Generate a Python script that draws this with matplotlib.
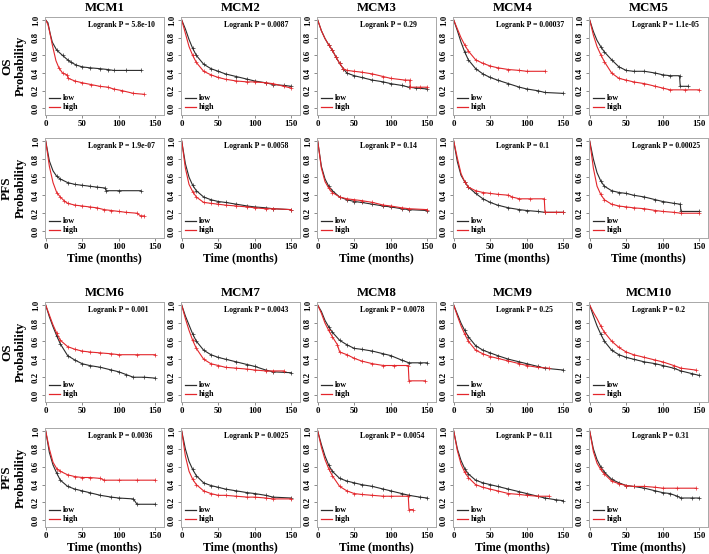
import matplotlib
matplotlib.use("Agg")
import matplotlib.pyplot as plt
import numpy as np

plt.rcParams['font.family'] = ['Liberation Serif', 'DejaVu Serif']
plt.rcParams['font.weight'] = 'bold'

# ---------------- data ----------------
GENES = ["MCM1", "MCM2", "MCM3", "MCM4", "MCM5", "MCM6", "MCM7", "MCM8", "MCM9", "MCM10"]
P_OS = ["5.8e-10", "0.0087", "0.29", "0.00037", "1.1e-05", "0.001", "0.0043", "0.0078", "0.25", "0.2"]
P_PFS = ["1.9e-07", "0.0058", "0.14", "0.1", "0.00025", "0.0036", "0.0025", "0.0054", "0.11", "0.31"]
X_TICKS = [0, 50, 100, 150]
Y_TICKS = [0.0, 0.2, 0.4, 0.6, 0.8, 1.0]
GROUPS = ["low", "high"]

# (time in months, survival probability)
MCM1_OS_LOW = [(0, 1), (3, 0.97), (6, 0.85), (9, 0.75), (15, 0.66), (23, 0.60), (30, 0.55), (35, 0.52), (42, 0.49), (50, 0.47), (60, 0.46), (74, 0.45), (85, 0.44), (93, 0.43), (110, 0.43), (130, 0.43)]
MCM1_OS_HIGH = [(0, 1), (3, 0.95), (5, 0.88), (9, 0.72), (14, 0.54), (18, 0.46), (23, 0.40), (29, 0.38), (31, 0.34), (40, 0.31), (50, 0.29), (62, 0.27), (74, 0.25), (85, 0.24), (93, 0.22), (105, 0.20), (120, 0.17), (134, 0.16)]
MCM1_PFS_LOW = [(0, 1), (5, 0.78), (10, 0.67), (15, 0.61), (20, 0.58), (30, 0.54), (40, 0.52), (50, 0.51), (60, 0.50), (70, 0.49), (81, 0.48), (83, 0.45), (100, 0.45), (130, 0.45)]
MCM1_PFS_HIGH = [(0, 1), (5, 0.72), (10, 0.54), (15, 0.43), (20, 0.38), (25, 0.34), (30, 0.31), (40, 0.29), (50, 0.28), (60, 0.27), (70, 0.26), (80, 0.24), (90, 0.23), (100, 0.22), (110, 0.21), (125, 0.20), (130, 0.17), (135, 0.17)]

MCM2_OS_LOW = [(0, 1), (5, 0.9), (10, 0.78), (15, 0.68), (20, 0.6), (30, 0.5), (40, 0.45), (50, 0.42), (60, 0.39), (75, 0.36), (90, 0.33), (100, 0.31), (115, 0.29), (125, 0.27), (140, 0.26), (150, 0.25)]
MCM2_OS_HIGH = [(0, 1), (5, 0.85), (10, 0.7), (15, 0.6), (20, 0.52), (30, 0.42), (40, 0.38), (50, 0.35), (60, 0.33), (75, 0.31), (90, 0.30), (100, 0.30), (115, 0.29), (125, 0.28), (140, 0.25), (150, 0.23)]
MCM2_PFS_LOW = [(0, 1), (5, 0.75), (10, 0.6), (15, 0.51), (20, 0.45), (30, 0.38), (40, 0.35), (50, 0.33), (60, 0.32), (75, 0.30), (90, 0.28), (100, 0.27), (115, 0.26), (125, 0.25), (150, 0.24)]
MCM2_PFS_HIGH = [(0, 1), (5, 0.7), (10, 0.52), (15, 0.44), (20, 0.38), (30, 0.32), (40, 0.31), (50, 0.30), (60, 0.29), (75, 0.28), (90, 0.27), (100, 0.26), (115, 0.25), (125, 0.25), (150, 0.24)]

MCM3_OS_LOW = [(0, 1), (5, 0.88), (10, 0.79), (15, 0.72), (20, 0.66), (25, 0.58), (30, 0.51), (35, 0.45), (40, 0.40), (50, 0.37), (60, 0.35), (75, 0.32), (90, 0.30), (100, 0.28), (115, 0.26), (125, 0.24), (135, 0.23), (150, 0.22)]
MCM3_OS_HIGH = [(0, 1), (5, 0.88), (10, 0.79), (15, 0.72), (20, 0.66), (25, 0.58), (30, 0.51), (35, 0.45), (40, 0.43), (50, 0.42), (60, 0.41), (75, 0.39), (90, 0.36), (100, 0.34), (120, 0.32), (126, 0.32), (127, 0.24), (140, 0.24), (150, 0.24)]
MCM3_PFS_LOW = [(0, 1), (5, 0.72), (10, 0.58), (15, 0.5), (20, 0.45), (30, 0.38), (40, 0.35), (50, 0.33), (60, 0.32), (75, 0.30), (90, 0.28), (100, 0.27), (115, 0.25), (125, 0.24), (150, 0.23)]
MCM3_PFS_HIGH = [(0, 1), (5, 0.7), (10, 0.55), (15, 0.48), (20, 0.43), (30, 0.38), (40, 0.36), (50, 0.35), (60, 0.34), (75, 0.32), (90, 0.29), (100, 0.28), (115, 0.26), (125, 0.25), (150, 0.24)]

MCM4_OS_LOW = [(0, 1), (5, 0.88), (10, 0.75), (15, 0.64), (20, 0.55), (30, 0.45), (40, 0.39), (50, 0.35), (60, 0.32), (75, 0.28), (90, 0.24), (100, 0.22), (115, 0.20), (125, 0.18), (150, 0.17)]
MCM4_OS_HIGH = [(0, 1), (5, 0.9), (10, 0.8), (15, 0.72), (20, 0.65), (30, 0.55), (40, 0.51), (50, 0.48), (60, 0.46), (75, 0.44), (90, 0.43), (100, 0.42), (125, 0.42)]
MCM4_PFS_LOW = [(0, 1), (5, 0.77), (10, 0.62), (15, 0.55), (20, 0.49), (30, 0.42), (40, 0.36), (50, 0.32), (60, 0.29), (75, 0.26), (90, 0.24), (100, 0.23), (115, 0.22), (125, 0.21), (150, 0.21)]
MCM4_PFS_HIGH = [(0, 1), (5, 0.81), (10, 0.64), (15, 0.55), (20, 0.49), (30, 0.45), (40, 0.43), (50, 0.42), (60, 0.41), (75, 0.40), (80, 0.38), (90, 0.36), (105, 0.36), (124, 0.36), (125, 0.21), (140, 0.21), (150, 0.21)]

MCM5_OS_LOW = [(0, 1), (5, 0.87), (10, 0.77), (15, 0.70), (20, 0.64), (30, 0.55), (40, 0.47), (50, 0.43), (60, 0.42), (75, 0.42), (90, 0.40), (100, 0.38), (110, 0.37), (123, 0.37), (124, 0.25), (135, 0.25)]
MCM5_OS_HIGH = [(0, 1), (5, 0.83), (10, 0.70), (15, 0.61), (20, 0.53), (30, 0.40), (40, 0.34), (50, 0.32), (60, 0.30), (75, 0.28), (90, 0.25), (100, 0.23), (110, 0.21), (130, 0.21), (150, 0.21)]
MCM5_PFS_LOW = [(0, 1), (5, 0.8), (10, 0.65), (15, 0.56), (20, 0.5), (30, 0.45), (40, 0.43), (50, 0.42), (60, 0.40), (75, 0.38), (90, 0.35), (100, 0.33), (115, 0.31), (124, 0.30), (125, 0.22), (150, 0.22)]
MCM5_PFS_HIGH = [(0, 1), (5, 0.7), (10, 0.5), (15, 0.41), (20, 0.35), (30, 0.30), (40, 0.28), (50, 0.27), (60, 0.26), (75, 0.25), (90, 0.23), (100, 0.22), (115, 0.21), (125, 0.20), (150, 0.20)]

MCM6_OS_LOW = [(0, 1), (5, 0.87), (10, 0.76), (15, 0.66), (20, 0.57), (30, 0.44), (40, 0.39), (50, 0.35), (60, 0.33), (75, 0.31), (90, 0.28), (100, 0.26), (110, 0.23), (120, 0.20), (135, 0.20), (150, 0.19)]
MCM6_OS_HIGH = [(0, 1), (5, 0.89), (10, 0.78), (15, 0.69), (20, 0.61), (30, 0.54), (40, 0.51), (50, 0.49), (60, 0.48), (75, 0.47), (90, 0.46), (100, 0.45), (125, 0.45), (150, 0.45)]
MCM6_PFS_LOW = [(0, 1), (5, 0.76), (10, 0.62), (15, 0.53), (20, 0.45), (30, 0.38), (40, 0.35), (50, 0.33), (60, 0.31), (75, 0.28), (90, 0.26), (100, 0.25), (120, 0.24), (125, 0.18), (150, 0.18)]
MCM6_PFS_HIGH = [(0, 1), (5, 0.8), (10, 0.65), (15, 0.58), (20, 0.55), (30, 0.51), (40, 0.49), (50, 0.48), (60, 0.48), (75, 0.47), (80, 0.45), (100, 0.45), (125, 0.45), (150, 0.45)]

MCM7_OS_LOW = [(0, 1), (5, 0.88), (10, 0.78), (15, 0.68), (20, 0.6), (30, 0.5), (40, 0.45), (50, 0.42), (60, 0.40), (75, 0.37), (90, 0.34), (100, 0.32), (115, 0.28), (125, 0.26), (150, 0.25)]
MCM7_OS_HIGH = [(0, 1), (5, 0.85), (10, 0.72), (15, 0.61), (20, 0.52), (30, 0.40), (40, 0.35), (50, 0.33), (60, 0.31), (75, 0.30), (90, 0.29), (100, 0.28), (115, 0.27), (125, 0.27), (140, 0.27)]
MCM7_PFS_LOW = [(0, 1), (5, 0.8), (10, 0.66), (15, 0.57), (20, 0.5), (30, 0.42), (40, 0.39), (50, 0.37), (60, 0.35), (75, 0.33), (90, 0.31), (100, 0.30), (115, 0.28), (125, 0.26), (150, 0.25)]
MCM7_PFS_HIGH = [(0, 1), (5, 0.72), (10, 0.55), (15, 0.46), (20, 0.40), (30, 0.33), (40, 0.30), (50, 0.28), (60, 0.28), (75, 0.27), (90, 0.26), (100, 0.26), (115, 0.25), (125, 0.24), (150, 0.24)]

MCM8_OS_LOW = [(0, 1), (5, 0.93), (10, 0.83), (15, 0.76), (20, 0.70), (30, 0.61), (40, 0.56), (50, 0.52), (60, 0.51), (75, 0.49), (90, 0.46), (100, 0.44), (115, 0.39), (125, 0.36), (140, 0.36), (150, 0.36)]
MCM8_OS_HIGH = [(0, 1), (5, 0.91), (10, 0.80), (15, 0.72), (20, 0.65), (27, 0.56), (30, 0.48), (40, 0.45), (50, 0.41), (60, 0.38), (75, 0.35), (90, 0.33), (105, 0.33), (124, 0.33), (125, 0.16), (147, 0.16)]
MCM8_PFS_LOW = [(0, 1), (5, 0.85), (10, 0.72), (15, 0.62), (20, 0.55), (30, 0.47), (40, 0.44), (50, 0.42), (60, 0.40), (75, 0.38), (90, 0.35), (100, 0.33), (115, 0.30), (125, 0.28), (140, 0.26), (150, 0.25)]
MCM8_PFS_HIGH = [(0, 1), (5, 0.82), (10, 0.68), (15, 0.58), (20, 0.50), (30, 0.38), (40, 0.33), (50, 0.30), (60, 0.29), (75, 0.28), (90, 0.27), (100, 0.27), (124, 0.27), (125, 0.12), (130, 0.12)]

MCM9_OS_LOW = [(0, 1), (5, 0.9), (10, 0.8), (15, 0.72), (20, 0.65), (30, 0.55), (40, 0.50), (50, 0.47), (60, 0.44), (75, 0.40), (90, 0.37), (100, 0.35), (115, 0.32), (125, 0.30), (150, 0.28)]
MCM9_OS_HIGH = [(0, 1), (5, 0.88), (10, 0.77), (15, 0.68), (20, 0.60), (30, 0.50), (40, 0.46), (50, 0.43), (60, 0.41), (75, 0.38), (90, 0.35), (100, 0.33), (115, 0.31), (130, 0.30)]
MCM9_PFS_LOW = [(0, 1), (5, 0.8), (10, 0.67), (15, 0.58), (20, 0.52), (30, 0.45), (40, 0.42), (50, 0.40), (60, 0.38), (75, 0.35), (90, 0.32), (100, 0.30), (115, 0.27), (125, 0.25), (140, 0.23), (150, 0.22)]
MCM9_PFS_HIGH = [(0, 1), (5, 0.78), (10, 0.63), (15, 0.54), (20, 0.48), (30, 0.40), (40, 0.37), (50, 0.35), (60, 0.33), (75, 0.30), (90, 0.29), (100, 0.28), (115, 0.27), (130, 0.27)]

MCM10_OS_LOW = [(0, 1), (5, 0.88), (10, 0.77), (15, 0.68), (20, 0.60), (30, 0.50), (40, 0.45), (50, 0.42), (60, 0.40), (75, 0.37), (90, 0.35), (100, 0.33), (115, 0.30), (125, 0.27), (140, 0.24), (150, 0.22)]
MCM10_OS_HIGH = [(0, 1), (5, 0.92), (10, 0.85), (15, 0.77), (20, 0.70), (30, 0.60), (40, 0.53), (50, 0.48), (60, 0.45), (75, 0.42), (90, 0.39), (100, 0.37), (115, 0.33), (125, 0.30), (145, 0.28)]
MCM10_PFS_LOW = [(0, 1), (5, 0.80), (10, 0.68), (15, 0.60), (20, 0.54), (30, 0.46), (40, 0.42), (50, 0.39), (60, 0.38), (75, 0.36), (90, 0.33), (100, 0.31), (110, 0.30), (120, 0.27), (125, 0.25), (140, 0.25), (150, 0.25)]
MCM10_PFS_HIGH = [(0, 1), (5, 0.77), (10, 0.64), (15, 0.57), (20, 0.52), (30, 0.44), (40, 0.41), (50, 0.39), (60, 0.38), (75, 0.38), (90, 0.37), (100, 0.36), (120, 0.36), (145, 0.36)]

CURVES = {
    "MCM1": (MCM1_OS_LOW, MCM1_OS_HIGH, MCM1_PFS_LOW, MCM1_PFS_HIGH),
    "MCM2": (MCM2_OS_LOW, MCM2_OS_HIGH, MCM2_PFS_LOW, MCM2_PFS_HIGH),
    "MCM3": (MCM3_OS_LOW, MCM3_OS_HIGH, MCM3_PFS_LOW, MCM3_PFS_HIGH),
    "MCM4": (MCM4_OS_LOW, MCM4_OS_HIGH, MCM4_PFS_LOW, MCM4_PFS_HIGH),
    "MCM5": (MCM5_OS_LOW, MCM5_OS_HIGH, MCM5_PFS_LOW, MCM5_PFS_HIGH),
    "MCM6": (MCM6_OS_LOW, MCM6_OS_HIGH, MCM6_PFS_LOW, MCM6_PFS_HIGH),
    "MCM7": (MCM7_OS_LOW, MCM7_OS_HIGH, MCM7_PFS_LOW, MCM7_PFS_HIGH),
    "MCM8": (MCM8_OS_LOW, MCM8_OS_HIGH, MCM8_PFS_LOW, MCM8_PFS_HIGH),
    "MCM9": (MCM9_OS_LOW, MCM9_OS_HIGH, MCM9_PFS_LOW, MCM9_PFS_HIGH),
    "MCM10": (MCM10_OS_LOW, MCM10_OS_HIGH, MCM10_PFS_LOW, MCM10_PFS_HIGH),
}

# ---------------- layout / style ----------------
W, H = 709, 554
COL_LEFT = [45, 181, 317, 453, 589]
BOX_W = 119
ROW_BOX = [(17, 115), (138, 238), (302, 402), (428, 527)]
C_LOW = "#2b2b2b"
C_HIGH = "#e3262b"
FRAME = "#a8a8a8"

fig = plt.figure(figsize=(W / 100, H / 100), dpi=100)


def draw_curve(ax, pts, color):
    t = np.array([p[0] for p in pts], float)
    s = np.array([p[1] for p in pts], float)
    ax.plot(t, s, color=color, lw=0.8, solid_joinstyle="miter")
    m = t >= 15
    ax.plot(t[m], s[m], "+", color=color, ms=2.6, mew=0.5)


for gi, gene in enumerate(GENES):
    block = gi // 5
    col = gi % 5
    os_low, os_high, pfs_low, pfs_high = CURVES[gene]
    for k, (low, high, pval) in enumerate([(os_low, os_high, P_OS[gi]), (pfs_low, pfs_high, P_PFS[gi])]):
        row = block * 2 + k
        top, bot = ROW_BOX[row]
        left = COL_LEFT[col]
        ax = fig.add_axes([left / W, 1 - bot / H, BOX_W / W, (bot - top) / H])
        ax.set_xlim(-1, 162)
        ax.set_ylim(-0.075, 1.035)
        draw_curve(ax, low, C_LOW)
        draw_curve(ax, high, C_HIGH)
        ax.set_xticks(X_TICKS)
        ax.set_xticklabels([str(v) for v in X_TICKS])
        ax.set_yticks(Y_TICKS)
        ax.set_yticklabels([f"{v:.1f}" for v in Y_TICKS], rotation=90, va="center")
        ax.tick_params(labelsize=6.3, length=2.5, width=0.6, color="#777777", pad=1.2)
        for sp in ax.spines.values():
            sp.set_color(FRAME)
            sp.set_linewidth(0.7)
        ax.text(0.36, 0.915, f"Logrank P = {pval}", transform=ax.transAxes,
                fontsize=5.6, fontweight="bold", ha="left", va="center")
        # legend
        hgt = bot - top
        for name, col_c, ypx in [(GROUPS[0], C_LOW, 17), (GROUPS[1], C_HIGH, 8)]:
            yf = ypx / hgt
            ax.plot([4 / BOX_W, 15 / BOX_W], [yf, yf], color=col_c, lw=0.9, transform=ax.transAxes)
            ax.text(18 / BOX_W, yf, name, transform=ax.transAxes, fontsize=5.9,
                    fontweight="bold", ha="left", va="center")
        if k == 0:
            fig.text((left + BOX_W / 2) / W, 1 - (top - 9) / H, gene, fontsize=9.2,
                     fontweight="bold", ha="center", va="center")
        else:
            fig.text((left + BOX_W / 2) / W, 1 - (bot + 20) / H, "Time (months)", fontsize=8.6,
                     fontweight="bold", ha="center", va="center")

for row, lab in enumerate(["OS", "PFS", "OS", "PFS"]):
    top, bot = ROW_BOX[row]
    yc = 1 - (top + bot) / 2 / H
    fig.text(7 / W, yc, lab, rotation=90, fontsize=9.5, fontweight="bold", ha="center", va="center")
    fig.text(21 / W, yc, "Probability", rotation=90, fontsize=9, fontweight="bold", ha="center", va="center")

fig.savefig("out.png", dpi=100)
